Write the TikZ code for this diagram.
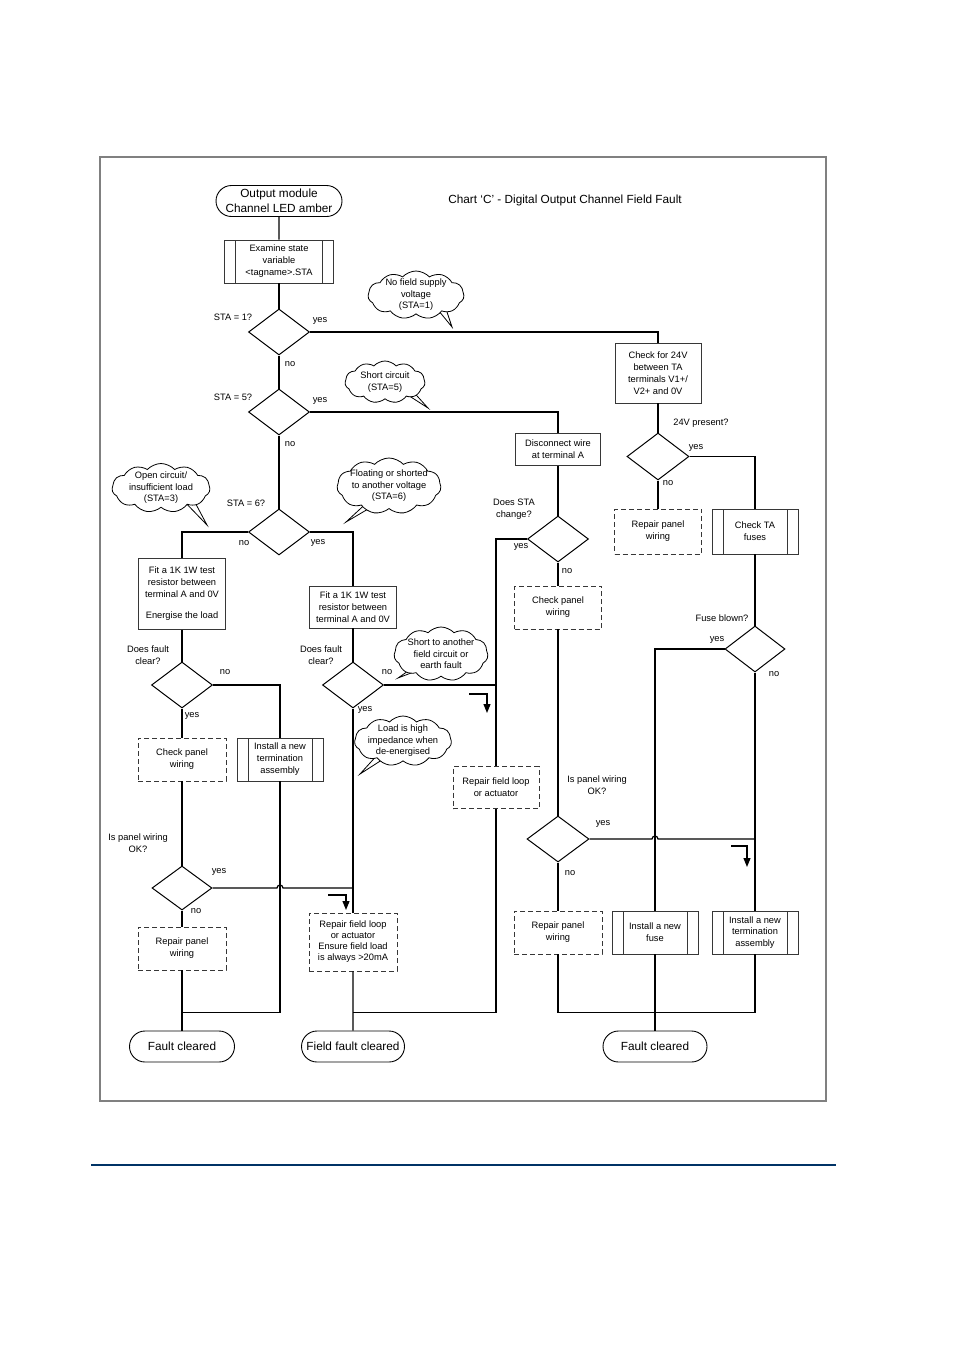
\documentclass[tikz,border=0pt]{standalone}
\usepackage{fontspec}
\setmainfont{Liberation Sans}
\usetikzlibrary{positioning, arrows.meta, shapes.geometric, shapes.misc, shapes.symbols, calc, backgrounds}
\definecolor{rulecol}{RGB}{0, 51, 102}
\definecolor{edge}{RGB}{55, 55, 55}
\definecolor{framecol}{RGB}{128, 128, 128}

\begin{document}
\begin{tikzpicture}[
    x=1pt, y=-1pt,
    termbox/.style={
        draw=black,
        rounded rectangle,
        line width=0.9pt,
        minimum height=31pt,
        inner sep=2pt,
        font=\fontsize{11.8}{14.6}\selectfont,
        align=center
    },
    procbox/.style={
        draw=edge,
        line width=0.8pt,
        inner sep=1pt,
        font=\fontsize{9.3}{12}\selectfont,
        align=center
    },
    dashbox/.style={
        procbox,
        dash pattern=on 5pt off 3pt
    },
    subbox/.style={
        procbox,
        path picture={
            \draw[edge, line width=0.8pt]
              ([xshift=11pt]path picture bounding box.north west) -- ([xshift=11pt]path picture bounding box.south west)
              ([xshift=-11pt]path picture bounding box.north east) -- ([xshift=-11pt]path picture bounding box.south east);
        }
    },
    decision/.style={
        draw=black,
        diamond,
        line width=1pt,
        inner sep=0pt,
        minimum width=61pt,
        minimum height=46pt
    },
    thought/.style={
        draw=black,
        cloud,
        cloud puffs=11,
        cloud puff arc=95,
        cloud ignores aspect,
        fill=white,
        line width=0.8pt,
        inner sep=0pt
    },
    box size/.style 2 args={minimum width=#1, minimum height=#2},
    lbl/.style={font=\fontsize{9.3}{11.5}\selectfont, inner sep=1pt, align=center},
    conn/.style={line width=1.2pt},
    flowmark/.style={line width=1.2pt, -{Triangle[length=9pt, width=7pt]}}
]
\useasboundingbox (0,0) rectangle (955,1350);

% === Frame ===
\draw[framecol, line width=1.3pt] (100,157) rectangle (826,1101);
\draw[rulecol, line width=2.5pt] (91,1165) -- (836,1165);

% === Start ===
\node[termbox, minimum width=130pt] (start) at (279,201) {Output module\\Channel LED amber};
\node[font=\fontsize{11.8}{14}\selectfont] (title) at (565,200) {Chart ‘C’ - Digital Output Channel Field Fault};
\node[subbox, box size={109pt}{43pt}] (exam) at (279,261.5) {Examine state\\variable\\<tagname>.STA};

% === STA checks ===
\node[decision] (d1) at (279,332) {};
\node[decision] (d2) at (279,412) {};
\node[decision] (d3) at (279,532) {};
\node[lbl] (q1) at (233,317) {STA = 1?};
\node[lbl] (q1y) at (320,321) {yes};
\node[lbl] (q1n) at (290,364) {no};
\node[lbl] (q2) at (233,397) {STA = 5?};
\node[lbl] (q2y) at (320,401) {yes};
\node[lbl] (q2n) at (290,444) {no};
\node[lbl] (q3) at (246,503) {STA = 6?};
\node[lbl] (q3n) at (244,543) {no};
\node[lbl] (q3y) at (318,543) {yes};

% === Left branch ===
\node[procbox, box size={87pt}{71pt}] (fit1) at (182,594) {Fit a 1K 1W test\\resistor between\\terminal A and 0V\\[9pt]Energise the load};
\node[decision] (d4) at (182,685) {};
\node[lbl] (q4) at (148,655) {Does fault\\clear?};
\node[lbl] (q4n) at (225,672) {no};
\node[lbl] (q4y) at (192,716) {yes};
\node[dashbox, box size={88pt}{43pt}] (chkp1) at (182,759.5) {Check panel\\wiring};
\node[subbox, box size={86pt}{43pt}] (inst1) at (280,759.5) {Install a new\\termination\\assembly};
\node[decision, minimum width=60pt, minimum height=44pt] (d6) at (182,888) {};
\node[lbl] (q6) at (138,843) {Is panel wiring\\OK?};
\node[lbl] (q6y) at (219,872) {yes};
\node[lbl] (q6n) at (196,911) {no};
\node[dashbox, box size={88pt}{43pt}] (rpw1) at (182,948.5) {Repair panel\\wiring};
\node[termbox, minimum width=109pt] (fc1) at (182,1046.5) {Fault cleared};

% === Middle branch ===
\node[procbox, box size={87pt}{42pt}] (fit2) at (353,607) {Fit a 1K 1W test\\resistor between\\terminal A and 0V};
\node[decision] (d5) at (353,685) {};
\node[lbl] (q5) at (321,655) {Does fault\\clear?};
\node[lbl] (q5n) at (387,672) {no};
\node[lbl] (q5y) at (365,710) {yes};
\node[dashbox, box size={88pt}{58pt}, font=\fontsize{9.3}{11}\selectfont] (rfl2) at (353,942) {Repair field loop\\or actuator\\Ensure field load\\is always >20mA};
\node[termbox, minimum width=107pt] (ffc) at (353,1046.5) {Field fault cleared};
\node[dashbox, box size={86pt}{42pt}] (rfl1) at (496,787.5) {Repair field loop\\or actuator};

% === Short circuit branch ===
\node[procbox, box size={85pt}{32pt}] (disc) at (558,449.5) {Disconnect wire\\at terminal A};
\node[decision] (d7) at (558,539) {};
\node[lbl] (q7) at (514,509) {Does STA\\change?};
\node[lbl] (q7y) at (521,547) {yes};
\node[lbl] (q7n) at (567,571) {no};
\node[dashbox, box size={87pt}{43pt}] (chkp2) at (558,607.5) {Check panel\\wiring};
\node[decision, minimum width=62pt] (d8) at (558,839) {};
\node[lbl] (q8) at (597,785) {Is panel wiring\\OK?};
\node[lbl] (q8y) at (603,824) {yes};
\node[lbl] (q8n) at (570,873) {no};
\node[dashbox, box size={88pt}{43pt}] (rpw2) at (558,932.5) {Repair panel\\wiring};

% === Supply branch ===
\node[procbox, box size={86pt}{60pt}] (chk24) at (658,373) {Check for 24V\\between TA\\terminals V1+/\\V2+ and 0V};
\node[decision, minimum width=62pt, minimum height=47pt] (d9) at (658,456.5) {};
\node[lbl] (q9) at (701,423) {24V present?};
\node[lbl] (q9y) at (696,448) {yes};
\node[lbl] (q9n) at (668,483) {no};
\node[dashbox, box size={87pt}{45pt}] (rpw3) at (658,531.5) {Repair panel\\wiring};
\node[subbox, box size={86pt}{45pt}] (chkta) at (755,531.5) {Check TA\\fuses};
\node[decision, minimum width=60pt] (d10) at (755,649) {};
\node[lbl] (q10) at (722,618) {Fuse blown?};
\node[lbl] (q10y) at (717,640) {yes};
\node[lbl] (q10n) at (774,674) {no};
\node[subbox, box size={86pt}{43pt}] (fuse) at (655,932.5) {Install a new\\fuse};
\node[subbox, box size={86pt}{43pt}, font=\fontsize{9.3}{11.5}\selectfont] (inst2) at (755,932.5) {Install a new\\termination\\assembly};
\node[termbox, minimum width=108pt] (fc2) at (655,1046.5) {Fault cleared};

% === Notes ===
\node[thought, box size={96pt}{48pt}] (cl1) at (416,295) {};
\node[lbl] (cl1t) at (cl1) {No field supply\\voltage\\(STA=1)};
\node[thought, box size={80pt}{42pt}] (cl2) at (385,382) {};
\node[lbl] (cl2t) at (cl2) {Short circuit\\(STA=5)};
\node[thought, box size={98pt}{49pt}] (cl3) at (161,488) {};
\node[lbl] (cl3t) at (cl3) {Open circuit/\\insufficient load\\(STA=3)};
\node[thought, box size={104pt}{56pt}] (cl4) at (389,486) {};
\node[lbl] (cl4t) at (cl4) {Floating or shorted\\to another voltage\\(STA=6)};
\node[thought, box size={94pt}{54pt}] (cl5) at (441,654) {};
\node[lbl] (cl5t) at (cl5) {Short to another\\field circuit or\\earth fault};
\node[thought, box size={97pt}{50pt}] (cl6) at (403,741) {};
\node[lbl] (cl6t) at (cl6) {Load is high\\impedance when\\de-energised};

\begin{scope}[on background layer]
\draw[fill=white, line width=0.8pt] ($(cl1.center)+(18,10)$) -- (452,327) -- ($(cl1.center)+(28,8)$) -- cycle;
\draw[fill=white, line width=0.8pt] ($(cl2.center)+(15,8)$) -- (428,408) -- ($(cl2.center)+(23,4)$) -- cycle;
\draw[fill=white, line width=0.8pt] ($(cl3.center)+(19,9)$) -- (207,525) -- ($(cl3.center)+(29,5)$) -- cycle;
\draw[fill=white, line width=0.8pt] ($(cl4.center)+(-17,12)$) -- (346,522) -- ($(cl4.center)+(-9,16)$) -- cycle;
\draw[fill=white, line width=0.8pt] ($(cl5.center)+(-23,10)$) -- (398,678) -- ($(cl5.center)+(-17,14)$) -- cycle;
\draw[fill=white, line width=0.8pt] ($(cl6.center)+(-23,11)$) -- (360,774) -- ($(cl6.center)+(-15,15)$) -- cycle;
\end{scope}

% === Connectors ===
\draw[conn] (start) -- (exam);
\draw[conn] (exam) -- (d1);
\draw[conn] (d1) -- (d2);
\draw[conn] (d2) -- (d3);
\draw[conn] (d1.east) -| (chk24.north);
\draw[conn] (d2.east) -| (disc.north);
\draw[conn] (d3.west) -| (fit1.north);
\draw[conn] (d3.east) -| (fit2.north);
\draw[conn] (fit1) -- (d4);
\draw[conn] (fit2) -- (d5);
\draw[conn] (d4.east) -| (inst1.north);
\draw[conn] (d4) -- (chkp1);
\draw[conn] (chkp1) -- (d6);
\draw[conn] (d6) -- (rpw1);
\draw[conn] (d5) -- (rfl2);
\draw[conn] (d6.east) -- ($(inst1.south |- d6.east)+(-3,0)$) arc[start angle=180, end angle=0, radius=3pt] -- (rfl2.north |- d6.east);
\draw[conn] (d5.east) -- (rfl1.north |- d5.east);
\draw[conn] (disc) -- (d7);
\draw[conn] (d7.west) -| (rfl1.north);
\draw[conn] (d7) -- (chkp2);
\draw[conn] (chkp2) -- (d8);
\draw[conn] (d8) -- (rpw2);
\draw[conn] (chk24) -- (d9);
\draw[conn] (d9) -- (rpw3);
\draw[conn] (d9.east) -| (chkta.north);
\draw[conn] (chkta) -- (d10);
\draw[conn] (d10.west) -| (fuse.north);
\draw[conn] (d10) -- (inst2);
\draw[conn] (d8.east) -- ($(fuse.north |- d8.east)+(-3,0)$) arc[start angle=180, end angle=0, radius=3pt] -- (inst2.north |- d8.east);

% bottom joins
\coordinate (j1) at ($(fc1.north)+(0,-18)$);
\coordinate (j2) at ($(ffc.north)+(0,-18)$);
\coordinate (j3) at ($(fc2.north)+(0,-18)$);
\draw[conn] (rpw1) -- (fc1);
\draw[conn] (inst1.south) |- (j1);
\draw[conn] (rfl2) -- (ffc);
\draw[conn] (rfl1.south) |- (j2);
\draw[conn] (fuse) -- (fc2);
\draw[conn] (rpw2.south) |- (j3);
\draw[conn] (inst2.south) |- (j3);

% flow marks
\coordinate (mk1) at (328,895);
\coordinate (mk2) at (469,694);
\coordinate (mk3) at (731,846);
\draw[flowmark] (mk1) -- ++(18,0) -- ++(0,15);
\draw[flowmark] (mk2) -- ++(18,0) -- ++(0,19);
\draw[flowmark] (mk3) -- ++(16,0) -- ++(0,21);

\end{tikzpicture}
\end{document}
